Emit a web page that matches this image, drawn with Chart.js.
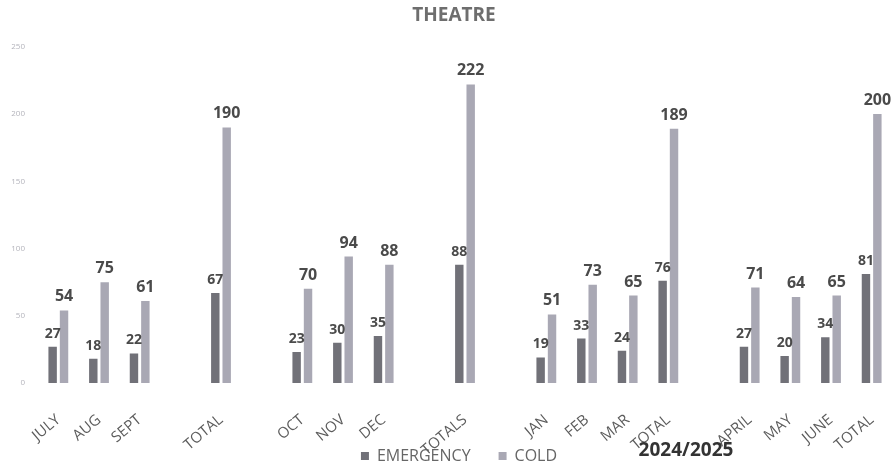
<!DOCTYPE html>
<html>
<head>
<meta charset="utf-8">
<title>Theatre</title>
<script src="https://cdn.jsdelivr.net/npm/chart.js@4"></script>
<style>
  html, body { margin: 0; padding: 0; background: #fff; }
</style>
</head>
<body>
<canvas id="theatreChart" width="895" height="470"></canvas>
<script>
// month / total categories, blanks are the spacer slots between quarters
const categories = ["JULY", "AUG", "SEPT", "", "TOTAL", "", "OCT", "NOV", "DEC", "", "TOTALS", "",
  "JAN", "FEB", "MAR", "TOTAL", "", "APRIL", "MAY", "JUNE", "TOTAL"];
const emergency = [27, 18, 22, null, 67, null, 23, 30, 35, null, 88, null,
  19, 33, 24, 76, null, 27, 20, 34, 81];
const cold = [54, 75, 61, null, 190, null, 70, 94, 88, null, 222, null,
  51, 73, 65, 189, null, 71, 64, 65, 200];
const yTicks = [0, 50, 100, 150, 200, 250];
const yearLabel = "2024/2025";

Chart.defaults.font.family = "'Open Sans', sans-serif";

// value labels on top of each bar
const barValues = {
  id: "barValues",
  afterDatasetsDraw(chart) {
    const ctx = chart.ctx;
    chart.data.datasets.forEach((ds, i) => {
      const meta = chart.getDatasetMeta(i);
      meta.data.forEach((bar, j) => {
        const v = ds.data[j];
        if (v === null || v === undefined) return;
        ctx.save();
        ctx.font = (i === 0 ? "bold 14px " : "bold 16px ") + "'Open Sans', sans-serif";
        ctx.fillStyle = "#4a4a4a";
        ctx.textAlign = "center";
        ctx.textBaseline = "alphabetic";
        ctx.fillText(v, bar.x, bar.y - 9);
        ctx.restore();
      });
    });
  }
};

// rotated month names run down over the legend row, so let them draw past the axis box;
// title and legend sit a little right of the canvas centre
const axisRoom = {
  id: "axisRoom",
  afterLayout(chart) {
    chart.scales.x.bottom = chart.height;
    chart.titleBlock.left += 8;
    chart.titleBlock.right += 8;
    chart.legend.left += 13;
    chart.legend.right += 13;
  }
};

// financial year note under the axis
const yearNote = {
  id: "yearNote",
  afterDraw(chart) {
    const ctx = chart.ctx;
    ctx.save();
    ctx.font = "bold 19px 'Open Sans', sans-serif";
    ctx.fillStyle = "#333";
    ctx.textAlign = "center";
    ctx.textBaseline = "middle";
    ctx.fillText(yearLabel, 686, 451);
    ctx.restore();
  }
};

const ctx = document.getElementById("theatreChart").getContext("2d");
new Chart(ctx, {
  type: "bar",
  data: {
    labels: categories,
    datasets: [
      {
        label: "EMERGENCY",
        data: emergency,
        backgroundColor: "#717178",
        categoryPercentage: 0.56,
        barPercentage: 0.74
      },
      {
        label: "COLD",
        data: cold,
        backgroundColor: "#a9a8b4",
        categoryPercentage: 0.56,
        barPercentage: 0.74
      }
    ]
  },
  options: {
    responsive: false,
    animation: false,
    layout: { padding: { top: 0, right: 3, bottom: -4, left: 0 } },
    plugins: {
      title: {
        display: true,
        text: "THEATRE",
        color: "#6e6e6e",
        font: { size: 19, weight: "bold" },
        padding: { top: 4, bottom: 20 }
      },
      legend: {
        position: "bottom",
        labels: {
          boxWidth: 8,
          boxHeight: 8,
          padding: 28,
          color: "#666",
          font: { size: 16 }
        }
      },
      tooltip: { enabled: false }
    },
    scales: {
      x: {
        grid: { display: false, drawTicks: false },
        border: { display: false },
        ticks: {
          autoSkip: false,
          minRotation: 40,
          maxRotation: 40,
          padding: 28,
          color: "#5c5c5c",
          font: { size: 15 }
        },
        afterFit(scale) {
          scale.height = 37;
          scale.paddingLeft = 0;
          scale.paddingRight = 0;
        }
      },
      y: {
        min: 0,
        max: 250,
        grid: { display: false, drawTicks: false },
        border: { display: false },
        afterBuildTicks(scale) { scale.ticks = yTicks.map(v => ({ value: v })); },
        ticks: {
          padding: 13,
          color: "#b4b4bc",
          font: { size: 8 }
        },
        afterFit(scale) { scale.width = 38; }
      }
    }
  },
  plugins: [barValues, axisRoom, yearNote]
});
</script>
</body>
</html>
